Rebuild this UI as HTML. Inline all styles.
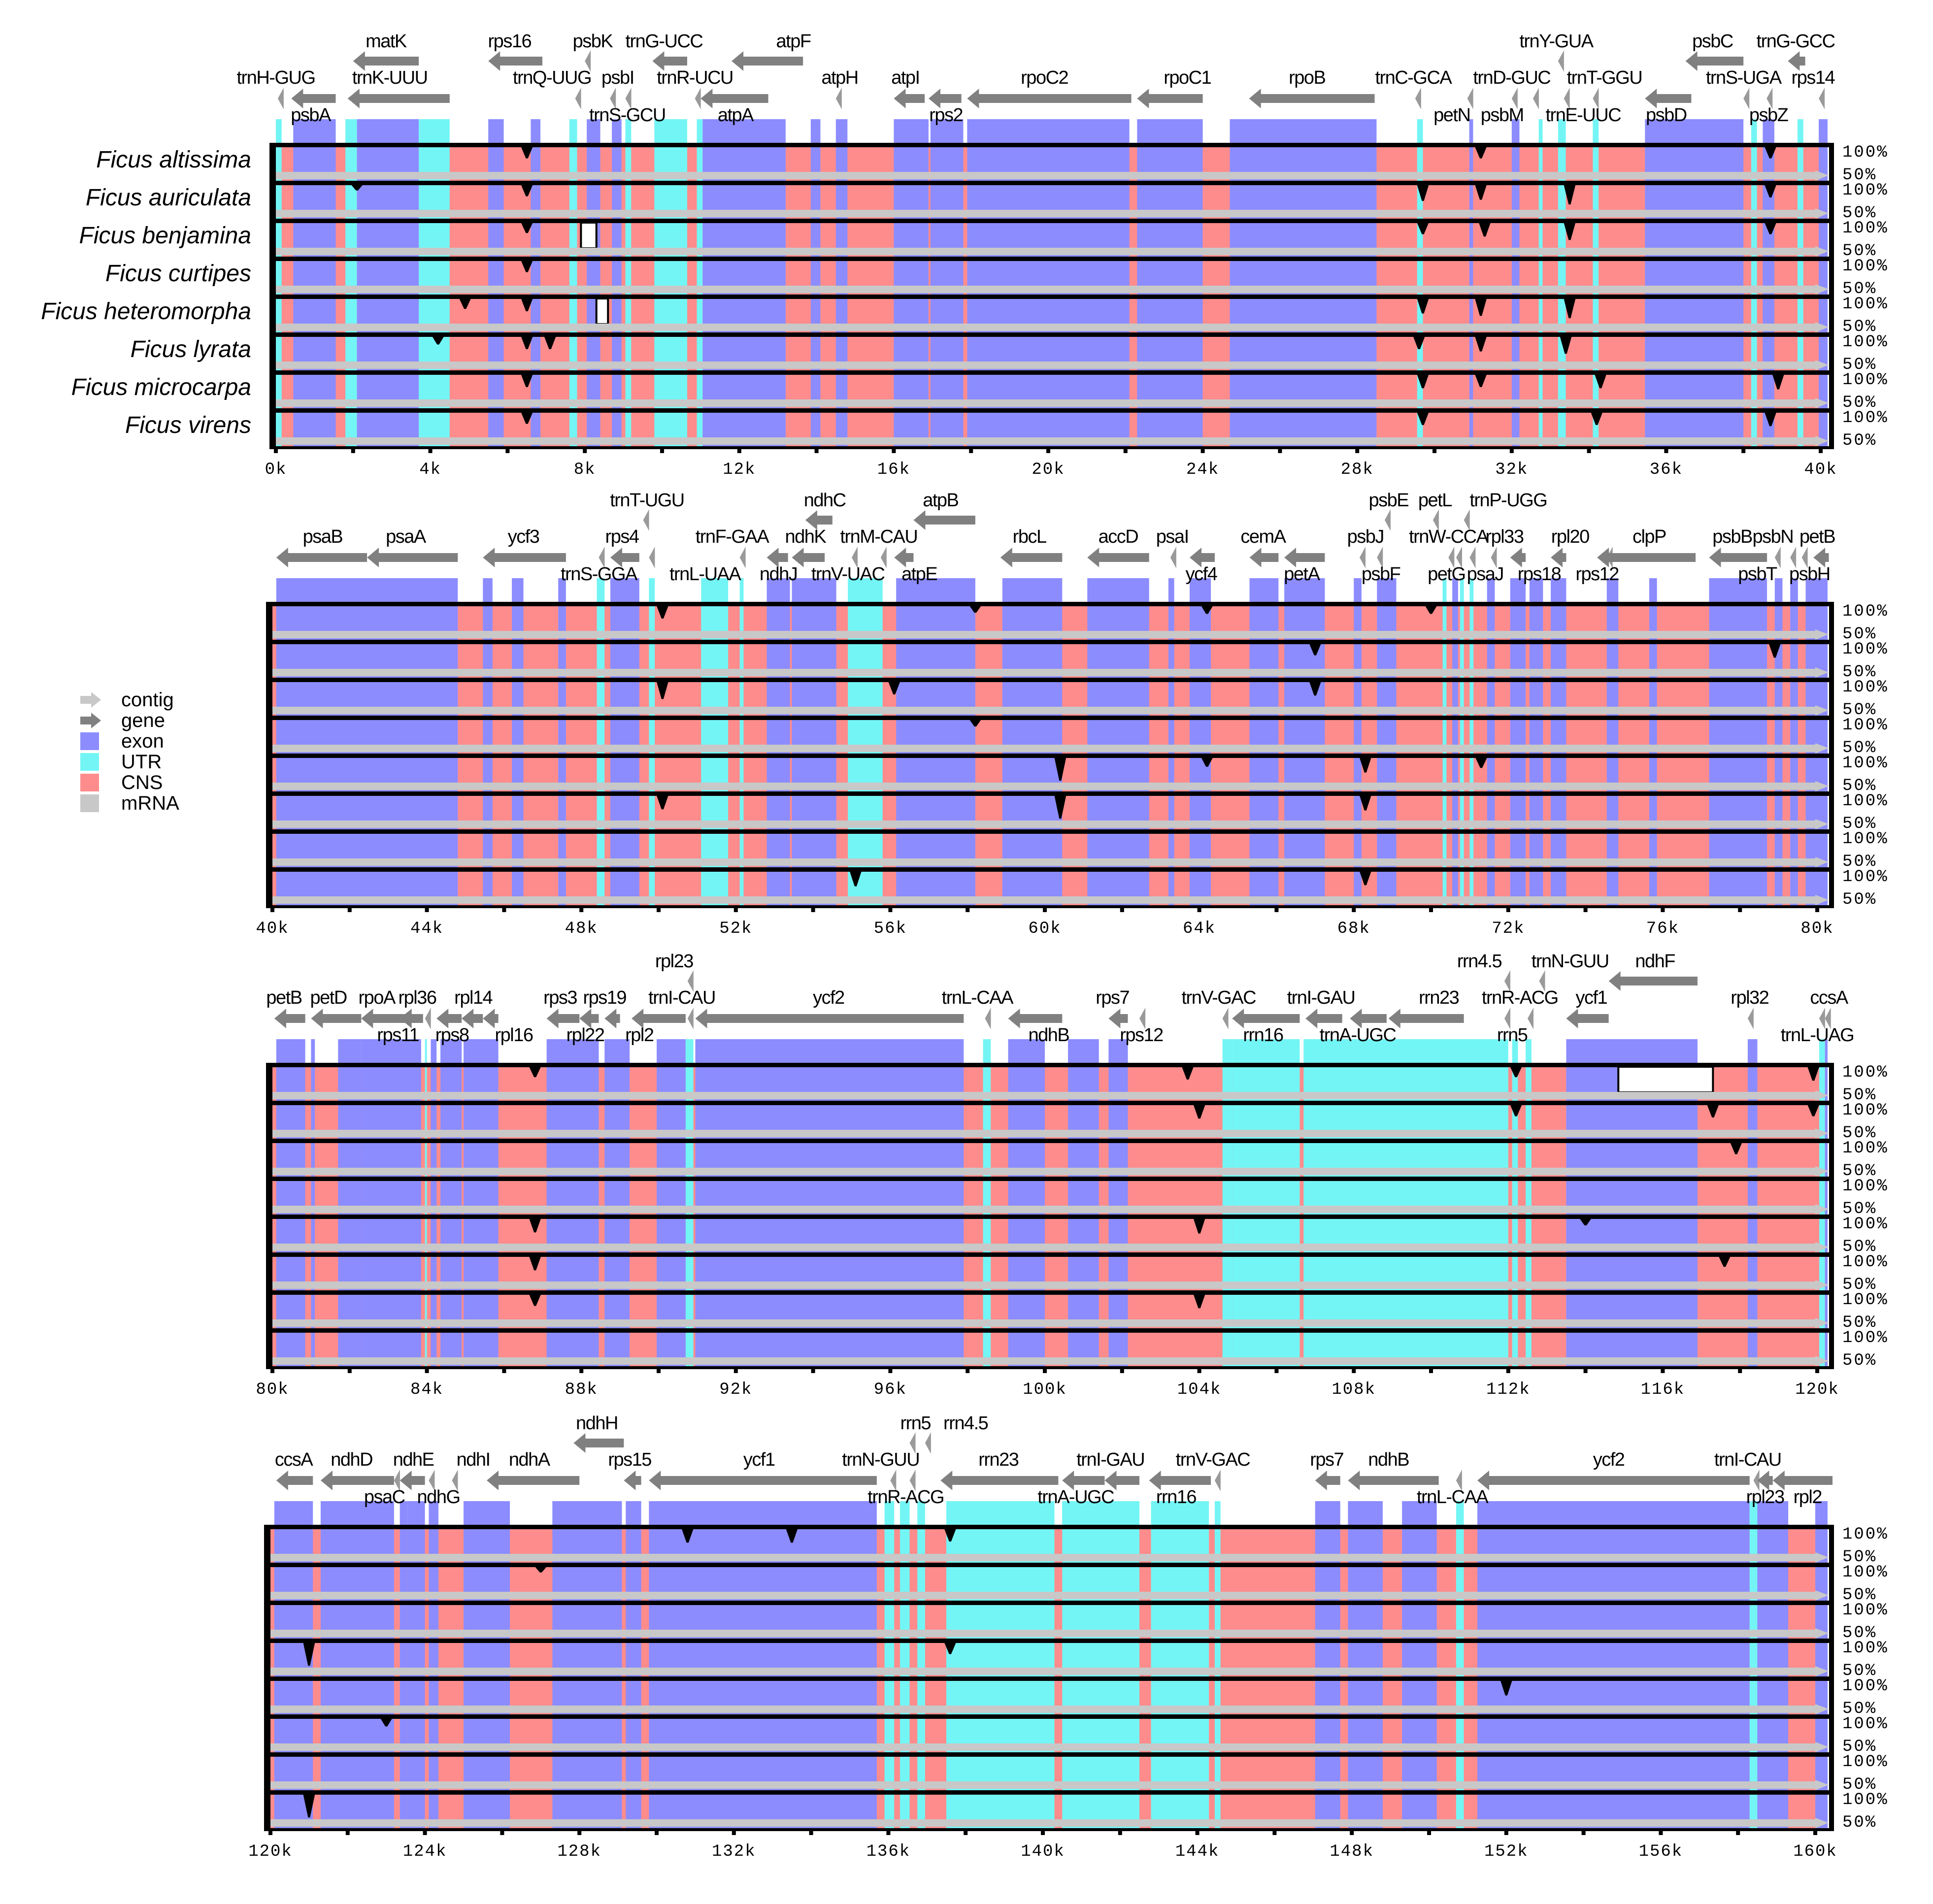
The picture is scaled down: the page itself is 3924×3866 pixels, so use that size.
<!DOCTYPE html>
<html><head><meta charset="utf-8">
<style>
html,body{margin:0;padding:0;background:#fff;}
svg{display:block;}
</style></head>
<body>
<svg id="chart" xmlns="http://www.w3.org/2000/svg" width="3924" height="3866" viewBox="0 0 3924 3866">
<rect x="0" y="0" width="3924" height="3866" fill="#fff"/>
</svg>
<script>
// ---- data ----
const species = ["Ficus altissima","Ficus auriculata","Ficus benjamina","Ficus curtipes","Ficus heteromorpha","Ficus lyrata","Ficus microcarpa","Ficus virens"];
const panelStartKb = [0,40,80,120];
const tickLabels = [["0k","4k","8k","12k","16k","20k","24k","28k","32k","36k","40k"],["40k","44k","48k","52k","56k","60k","64k","68k","72k","76k","80k"],["80k","84k","88k","92k","96k","100k","104k","108k","112k","116k","120k"],["120k","124k","128k","132k","136k","140k","144k","148k","152k","156k","160k"]];
// features: [type, startKb, endKb]  (e = exon, u = UTR)
const features0 = [["u",0,0.15],["e",0.45,1.55],["u",1.8,2.1],["e",2.1,3.7],["u",3.7,4.5],["e",5.5,5.9],["e",6.6,6.85],["u",7.6,7.8],["e",8.05,8.4],["e",8.7,8.95],["u",9.05,9.2],["u",9.8,10.65],["u",10.9,11.05],["e",11.05,13.2],["e",13.85,14.1],["e",14.5,14.8],["e",16.0,16.9],["e",16.95,17.8],["e",17.9,22.1],["e",22.3,24.0],["e",24.7,28.5],["u",29.55,29.7],["e",30.9,31.0],["e",32.0,32.2],["u",32.7,32.8],["u",33.2,33.4],["u",34.1,34.25],["e",35.45,38.0],["u",38.2,38.35],["e",38.5,38.8],["u",39.4,39.55],["e",39.95,40.3]];
const features1 = [["e",40.1,44.8],["e",45.45,45.7],["e",46.2,46.5],["e",47.4,47.6],["u",48.4,48.6],["e",48.75,49.5],["u",49.75,49.9],["u",51.1,51.8],["u",52.1,52.2],["e",52.8,53.4],["e",53.45,54.6],["u",54.9,55.8],["e",56.15,58.2],["e",58.9,60.45],["e",61.1,62.7],["e",63.2,63.35],["e",63.75,64.3],["e",65.3,66.05],["e",66.2,67.25],["e",68.0,68.2],["e",68.6,69.1],["u",70.3,70.4],["e",70.55,70.7],["u",70.75,70.85],["u",71.0,71.1],["e",71.45,71.65],["e",72.05,72.45],["e",72.55,72.9],["e",73.1,73.5],["e",74.55,74.85],["e",75.65,75.85],["e",77.2,78.7],["e",78.9,79.1],["e",79.3,79.5],["e",79.7,80.3]];
const features2 = [["e",80.1,80.85],["e",81.0,81.1],["e",81.7,82.3],["e",82.3,83.85],["u",83.95,84.0],["e",84.1,84.25],["e",84.35,84.9],["e",84.95,85.85],["e",87.1,88.45],["e",88.6,89.25],["e",89.95,90.7],["u",90.7,90.9],["e",90.95,97.9],["u",98.4,98.6],["e",99.05,100.0],["e",100.6,101.4],["e",101.65,102.15],["u",104.6,104.85],["u",104.85,106.6],["u",106.7,112.0],["u",112.1,112.25],["u",112.45,112.6],["e",113.5,116.9],["e",118.2,118.45],["u",120.05,120.2],["e",120.2,120.5]];
const features3 = [["e",120.1,121.1],["e",121.3,123.2],["e",123.35,123.55],["e",123.55,124.0],["e",124.1,124.35],["e",125.0,126.2],["e",127.3,129.1],["e",129.2,129.6],["e",129.8,135.7],["u",135.9,136.15],["u",136.3,136.55],["u",136.75,136.95],["u",137.5,140.3],["u",140.5,142.5],["u",142.8,144.3],["u",144.45,144.6],["e",147.05,147.7],["e",147.9,148.8],["e",149.3,150.2],["u",150.7,150.9],["e",151.25,158.3],["u",158.3,158.5],["e",158.5,159.3],["e",160.0,160.6]];
// genes: [name, startKb, endKb, dir, arrowRow, labelRow, labelKb]
const genes0 = [["trnH-GUG",0.05,0.25,-1,2,2,0.0],["psbA",0.4,1.55,-1,2,3,0.9],["matK",2.0,3.7,-1,1,1,2.85],["trnK-UUU",1.86,4.5,-1,2,2,2.95],["rps16",5.5,6.9,-1,1,1,6.05],["trnQ-UUG",7.75,7.9,-1,2,2,7.15],["psbK",8.0,8.35,-1,1,1,8.2],["psbI",8.65,8.8,-1,2,2,8.85],["trnS-GCU",9.05,9.2,-1,2,3,9.1],["trnG-UCC",9.75,10.65,-1,1,1,10.05],["trnR-UCU",10.85,11.0,-1,2,2,10.85],["atpA",11.0,12.75,-1,2,3,11.9],["atpF",11.8,13.65,-1,1,1,13.4],["atpH",14.5,14.8,-1,2,2,14.6],["atpI",16.0,16.8,-1,2,2,16.3],["rps2",16.9,17.75,-1,2,3,17.35],["rpoC2",17.9,22.15,-1,2,2,19.9],["rpoC1",22.3,24.0,-1,2,2,23.6],["rpoB",25.2,28.45,-1,2,2,26.7],["trnC-GCA",29.5,29.7,-1,2,2,29.45],["petN",30.85,31.0,-1,2,3,30.45],["psbM",32.0,32.2,-1,2,3,31.75],["trnD-GUC",32.55,32.7,-1,2,2,32.0],["trnY-GUA",33.2,33.35,-1,1,1,33.15],["trnE-UUC",33.35,33.5,-1,2,3,33.85],["trnT-GGU",34.1,34.25,-1,2,2,34.4],["psbD",35.45,36.65,-1,2,3,36.0],["psbC",36.5,38.0,-1,1,1,37.2],["trnS-UGA",38.0,38.15,-1,2,2,38.0],["psbZ",38.6,38.8,-1,2,3,38.65],["trnG-GCC",39.15,39.6,-1,1,1,39.35],["rps14",39.95,40.25,-1,2,2,39.8]];
const genes1 = [["trnT-UGU",49.6,49.8,-1,1,1,49.7],["ndhC",53.8,54.5,-1,1,1,54.3],["atpB",56.6,58.2,-1,1,1,57.3],["psbE",68.8,68.95,-1,1,1,68.9],["petL",70.05,70.2,-1,1,1,70.1],["trnP-UGG",70.85,71.0,-1,1,1,72.0],["psaB",40.1,42.45,-1,2,2,41.3],["psaA",42.45,44.8,-1,2,2,43.45],["ycf3",45.45,47.6,-1,2,2,46.5],["trnS-GGA",48.45,48.6,-1,2,3,48.45],["rps4",48.75,49.5,-1,2,2,49.05],["trnL-UAA",49.75,49.9,-1,2,3,51.2],["trnF-GAA",52.1,52.25,-1,2,2,51.9],["ndhJ",52.8,53.35,-1,2,3,53.1],["ndhK",53.45,54.3,-1,2,2,53.8],["trnM-CAU",55.0,55.15,-1,2,2,55.7],["trnV-UAC",55.75,55.9,-1,2,3,54.9],["atpE",56.1,56.6,-1,2,3,56.75],["rbcL",58.85,60.45,-1,2,2,59.6],["accD",61.1,62.7,-1,2,2,61.9],["psaI",63.25,63.35,-1,2,2,63.3],["ycf4",63.75,64.4,-1,2,3,64.05],["cemA",65.3,66.05,-1,2,2,65.65],["petA",66.2,67.25,-1,2,3,66.65],["psbJ",68.15,68.35,-1,2,2,68.3],["psbF",68.6,68.85,-1,2,3,68.7],["trnW-CCA",70.45,70.6,-1,2,2,70.45],["petG",70.65,70.75,-1,2,3,70.4],["psaJ",71.0,71.15,-1,2,3,71.4],["rpl33",71.55,71.7,-1,2,2,71.9],["rps18",72.05,72.45,-1,2,3,72.8],["rpl20",73.1,73.5,-1,2,2,73.6],["rps12",74.55,74.85,-1,2,3,74.3],["clpP",74.3,76.85,-1,2,2,75.65],["psbB",77.2,78.7,-1,2,2,77.8],["psbT",78.9,79.1,-1,2,3,78.45],["psbN",79.3,79.5,-1,2,2,78.85],["psbH",79.6,79.8,-1,2,3,79.8],["petB",79.9,80.3,-1,2,2,80.0]];
const genes2 = [["rpl23",90.75,90.9,-1,1,1,90.4],["rrn4.5",111.9,112.0,-1,1,1,111.25],["trnN-GUU",112.8,112.95,-1,1,1,113.6],["ndhF",114.6,116.9,-1,1,1,115.8],["petB",80.05,80.85,-1,2,2,80.3],["petD",81.0,82.3,-1,2,2,81.45],["rpoA",82.3,83.85,-1,2,2,82.7],["rpl36",83.95,84.05,-1,2,2,83.75],["rps11",83.3,83.9,-1,2,3,83.25],["rps8",84.25,84.9,-1,2,3,84.65],["rpl14",84.9,85.45,-1,2,2,85.2],["rpl16",85.45,85.85,-1,2,3,86.25],["rps3",87.1,87.95,-1,2,2,87.45],["rpl22",87.95,88.45,-1,2,3,88.1],["rps19",88.6,89.0,-1,2,2,88.6],["rpl2",89.3,90.7,-1,2,3,89.5],["trnI-CAU",90.75,90.95,-1,2,2,90.6],["ycf2",90.95,97.9,-1,2,2,94.4],["trnL-CAA",98.45,98.6,-1,2,2,98.25],["ndhB",99.05,100.45,-1,2,3,100.1],["rps7",101.65,102.15,-1,2,2,101.75],["rps12",102.45,102.75,-1,2,3,102.5],["trnV-GAC",104.6,104.85,-1,2,2,104.5],["rrn16",104.85,106.6,-1,2,3,105.65],["trnI-GAU",106.75,107.7,-1,2,2,107.15],["trnA-UGC",107.9,108.85,-1,2,3,108.1],["rrn23",108.9,110.85,-1,2,2,110.2],["trnR-ACG",111.9,112.0,-1,2,2,112.3],["rrn5",112.5,112.65,-1,2,3,112.1],["ycf1",113.5,114.6,-1,2,2,114.15],["rpl32",118.2,118.4,-1,2,2,118.25],["trnL-UAG",120.05,120.15,-1,2,3,120.0],["ccsA",120.2,120.5,-1,2,2,120.3]];
const genes3 = [["ndhH",127.85,129.15,-1,1,1,128.45],["rrn5",136.55,136.7,-1,1,1,136.7],["rrn4.5",136.95,137.05,-1,1,1,138.0],["ccsA",120.15,121.1,-1,2,2,120.6],["ndhD",121.3,123.2,-1,2,2,122.1],["psaC",123.2,123.35,-1,2,3,122.95],["ndhE",123.35,124.0,-1,2,2,123.7],["ndhG",124.1,124.35,-1,2,3,124.35],["ndhI",124.7,125.0,-1,2,2,125.25],["ndhA",125.6,128.0,-1,2,2,126.7],["rps15",129.15,129.6,-1,2,2,129.3],["ycf1",129.8,135.7,-1,2,2,132.65],["trnN-GUU",136.05,136.15,-1,2,2,135.8],["trnR-ACG",136.55,136.7,-1,2,3,136.45],["rrn23",137.35,140.4,-1,2,2,138.85],["trnA-UGC",140.5,141.6,-1,2,3,140.85],["trnI-GAU",141.6,142.5,-1,2,2,141.75],["rrn16",142.75,144.35,-1,2,3,143.45],["trnV-GAC",144.45,144.6,-1,2,2,144.4],["rps7",147.05,147.7,-1,2,2,147.35],["ndhB",147.9,150.25,-1,2,2,148.95],["trnL-CAA",150.7,150.85,-1,2,3,150.6],["ycf2",151.25,158.3,-1,2,2,154.65],["trnI-CAU",158.4,158.5,-1,2,2,158.25],["rpl23",158.5,158.9,-1,2,3,158.7],["rpl2",158.9,160.5,-1,2,3,159.8]];
// conservation dips: [panel, track, kb, depthPercentDrop]
const dips = [[0,0,6.5,20],[0,1,6.5,20],[0,2,6.5,18],[0,3,6.5,20],[0,4,6.5,22],[0,5,6.5,22],[0,6,6.5,22],[0,7,6.5,20],[0,1,2.1,10],[0,4,4.9,18],[0,5,4.2,14],[0,5,7.1,22],[0,1,29.7,28],[0,2,29.7,20],[0,4,29.7,26],[0,5,29.6,22],[0,6,29.7,24],[0,7,29.7,22],[0,0,31.2,20],[0,1,31.2,26],[0,2,31.3,24],[0,4,31.2,30],[0,5,31.2,26],[0,6,31.2,22],[0,1,33.5,34],[0,2,33.5,30],[0,4,33.5,34],[0,5,33.4,30],[0,6,34.3,24],[0,7,34.2,22],[0,0,38.7,20],[0,1,38.7,22],[0,2,38.7,20],[0,6,38.9,26],[0,7,38.7,24],
[1,0,50.1,22],[1,2,50.1,30],[1,5,50.1,24],[1,2,56.1,22],[1,7,55.1,26],[1,4,60.4,40],[1,5,60.4,40],[1,0,58.2,12],[1,3,58.2,12],[1,0,64.2,14],[1,4,64.2,16],[1,1,67.0,20],[1,2,67.0,24],[1,4,68.3,26],[1,5,68.3,26],[1,7,68.3,24],[1,0,70.0,14],[1,1,78.9,24],[1,4,71.3,18],
[2,0,86.8,18],[2,4,86.8,24],[2,5,86.8,24],[2,6,86.8,20],[2,0,103.7,22],[2,1,104.0,24],[2,4,104.0,26],[2,6,104.0,24],[2,0,112.2,18],[2,1,112.2,20],[2,4,114.0,12],[2,1,117.3,22],[2,2,117.9,20],[2,5,117.6,18],[2,0,119.9,24],[2,1,119.9,20],
[3,3,121.0,40],[3,7,121.0,40],[3,0,130.8,24],[3,0,133.5,24],[3,0,137.6,22],[3,3,137.6,20],[3,4,152.0,26],[3,1,127.0,10],[3,5,123.0,14]];
// alignment gaps (white): [panel, track, startKb, endKb]
const gaps = [[0,2,7.9,8.3],[0,4,8.3,8.6],[2,0,114.85,117.3]];

// ---- layout ----
const NS = "http://www.w3.org/2000/svg";
const svg = document.getElementById("chart");
const panelTop = [290,1222,2158,3096];
const panelX0 = [560,553,553,549];
const KB = 78.4, TH = 77, NT = 8, XR = 3710, BOXR = 3723;
const COL = {e:"#8C8CFF", u:"#73F5F5", c:"#FF8C8C", g:"#C8C8C8", gene:"#808080"};
const featureSets = [features0,features1,features2,features3];
const geneSets = [genes0,genes1,genes2,genes3];

function mk(tag, attrs, parent){
  const el = document.createElementNS(NS, tag);
  for (const k in attrs) el.setAttribute(k, attrs[k]);
  (parent||svg).appendChild(el);
  return el;
}
function xs(p, kb){ return panelX0[p] + (kb - panelStartKb[p]) * KB; }
function clampX(x){ return Math.max(0, Math.min(XR, x)); }

for (let p = 0; p < 4; p++) {
  const top = panelTop[p];
  const bottom = top + NT*TH;
  const left = panelX0[p] - 13;
  const xStart = panelX0[p];
  const g = mk("g", {});
  
  

  featureSets[p].forEach(f => {
    const x1 = clampX(xs(p,f[1])), x2 = clampX(xs(p,f[2]));
    const r = mk("rect", {x:x1, y:top-48, width:Math.max(2,x2-x1), height:48, fill:COL[f[0]]}, g);
    
    
  });

  geneSets[p].forEach(gn => {
    const x1 = xs(p,gn[1]), x2 = Math.min(xs(p,gn[2]), XR+10);
    const cy = gn[4]===1 ? top-166 : top-90;
    const len = x2 - x1;
    let pts;
    if (len < 30) {
      const w = 12;
      if (gn[3] < 0) pts = `${x1},${cy} ${x1+w},${cy-22} ${x1+w},${cy+22}`;
      else pts = `${x1+w},${cy} ${x1},${cy-22} ${x1},${cy+22}`;
    } else {
      const hl = 24, bh = 9, hh = 20;
      if (gn[3] < 0) pts = `${x1},${cy} ${x1+hl},${cy-hh} ${x1+hl},${cy-bh} ${x2},${cy-bh} ${x2},${cy+bh} ${x1+hl},${cy+bh} ${x1+hl},${cy+hh}`;
      else pts = `${x2},${cy} ${x2-hl},${cy-hh} ${x2-hl},${cy-bh} ${x1},${cy-bh} ${x1},${cy+bh} ${x2-hl},${cy+bh} ${x2-hl},${cy+hh}`;
    }
    const a = mk("polygon", {points:pts, fill: len < 30 ? "#9a9a9a" : COL.gene}, g);
    
    
    const ly = gn[5]===1 ? top-194 : (gn[5]===2 ? top-120 : top-44);
    const t = mk("text", {x:xs(p,gn[6]), y:ly, "text-anchor":"middle", "font-family":"Liberation Sans, sans-serif", "font-size":"38", "letter-spacing":"-1.5", fill:"#000"}, g);
    t.textContent = gn[0];
    
    
  });

  for (let t = 0; t < NT; t++) {
    const ty = top + t*TH;
    const tg = mk("g", {}, g);
    
    
    const bg = mk("rect", {x:xStart, y:ty, width:XR-xStart, height:TH, fill:COL.c}, tg);
    
    
    featureSets[p].forEach(f => {
      const x1 = clampX(xs(p,f[1])), x2 = clampX(xs(p,f[2]));
      const r = mk("rect", {x:x1, y:ty, width:Math.max(2,x2-x1), height:TH, fill:COL[f[0]]}, tg);
      
      
    });
    gaps.filter(d => d[0]===p && d[1]===t).forEach(d => {
      const x1 = xs(p,d[2]), x2 = xs(p,d[3]);
      const r = mk("rect", {x:x1, y:ty+8, width:x2-x1, height:52, fill:"#fff", stroke:"#000", "stroke-width":4}, tg);
      
      
    });
    const cb = mk("polygon", {points:`${xStart},${ty+59} ${XR-25},${ty+59} ${XR-25},${ty+56} ${XR+2},${ty+66} ${XR-25},${ty+77} ${XR-25},${ty+74} ${xStart},${ty+74}`, fill:COL.g}, tg);
    
    
    const tl = mk("rect", {x:left, y:ty, width:BOXR-left, height:9, fill:"#000"}, tg);
    
    
    dips.filter(d => d[0]===p && d[1]===t).forEach(d => {
      const cx = xs(p,d[2]);
      const depth = d[3] / 50 * 59;
      const dp = mk("polygon", {points:`${cx-12},${ty+8} ${cx+12},${ty+8} ${cx+2},${ty+8+depth} ${cx-2},${ty+8+depth}`, fill:"#000"}, tg);
      
      
    });
    const l100 = mk("text", {x:3740, y:ty+28, "font-family":"Liberation Mono, monospace", "font-size":"34", "letter-spacing":"3", fill:"#000"}, tg);
    l100.textContent = "100%";
    
    
    const l50 = mk("text", {x:3740, y:ty+74, "font-family":"Liberation Mono, monospace", "font-size":"34", "letter-spacing":"3", fill:"#000"}, tg);
    l50.textContent = "50%";
    
    
    if (p === 0) {
      const sl = mk("text", {x:510, y:ty+50, "text-anchor":"end", "font-family":"Liberation Sans, sans-serif", "font-size":"48", "font-style":"italic", fill:"#000"}, g);
      sl.textContent = species[t];
      
      
    }
  }
  const bl = mk("rect", {x:left, y:top, width:13, height:bottom-top+5, fill:"#000"}, g);
  
  
  const br = mk("rect", {x:XR+3, y:top, width:BOXR-XR-3, height:bottom-top+5, fill:"#000"}, g);
  
  
  const bb = mk("rect", {x:left, y:bottom, width:BOXR-left, height:6, fill:"#000"}, g);
  
  
  for (let k = 0; k <= 20; k++) {
    const tx = panelX0[p] + k*2*KB;
    if (tx > BOXR) break;
    const tk = mk("rect", {x:tx-4, y:bottom+4, width:8, height:10, fill:"#000"}, g);
    
    
  }
  tickLabels[p].forEach((lab, i) => {
    const tx = panelX0[p] + i*4*KB;
    const tt = mk("text", {x:tx, y:bottom+56, "text-anchor":"middle", "font-family":"Liberation Mono, monospace", "font-size":"34", "letter-spacing":"2", fill:"#000"}, g);
    tt.textContent = lab;
    
    
  });
}

// legend
const legendNames = ["contig","gene","exon","UTR","CNS","mRNA"];
const legendColors = ["#C8C8C8","#808080","#8C8CFF","#73F5F5","#FF8C8C","#C8C8C8"];
const lg = mk("g", {});


legendNames.forEach((n, i) => {
  const cy = 1421 + i*42;
  let sh;
  if (i < 2) {
    sh = mk("polygon", {points:`163,${cy-8} 185,${cy-8} 185,${cy-16} 205,${cy} 185,${cy+16} 185,${cy+8} 163,${cy+8}`, fill:legendColors[i]}, lg);
  } else {
    sh = mk("rect", {x:163, y:cy-18, width:38, height:36, fill:legendColors[i]}, lg);
  }
  
  
  const tx = mk("text", {x:246, y:cy+13, "font-family":"Liberation Sans, sans-serif", "font-size":"40", fill:"#000"}, lg);
  tx.textContent = n;
  
  
});
</script>
</body></html>
